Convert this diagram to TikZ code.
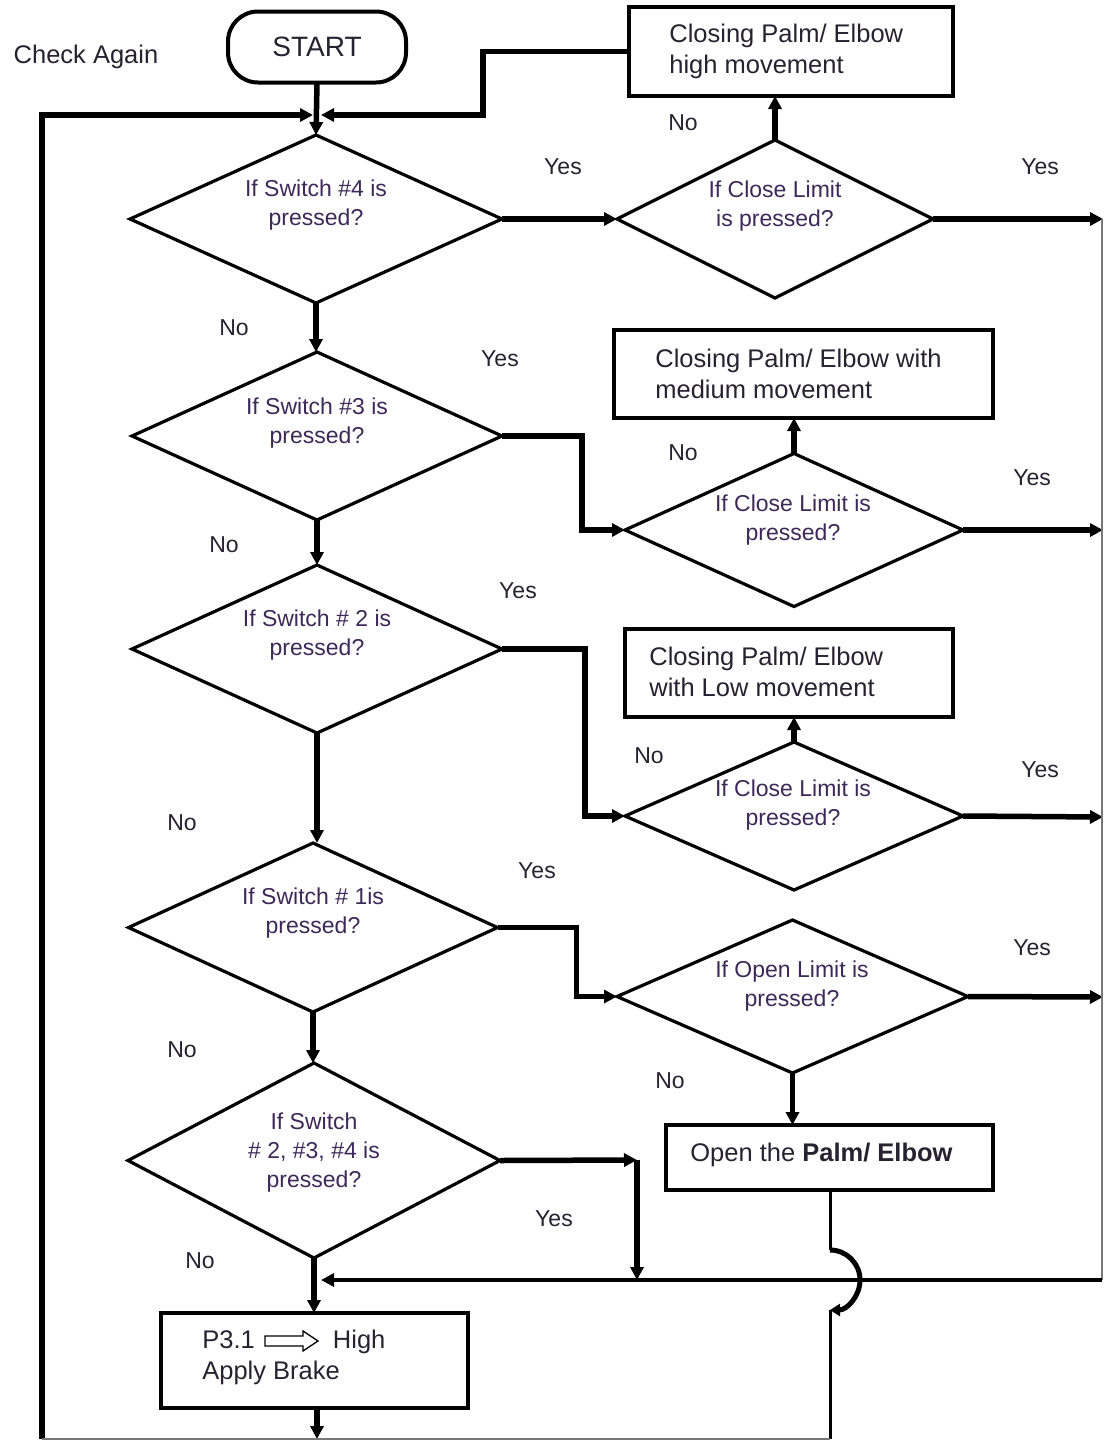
\documentclass[tikz,border=0pt]{standalone}
\usepackage{fontspec}
\setmainfont{Liberation Sans}
\usetikzlibrary{shapes.geometric,arrows.meta,calc}
\definecolor{txt}{RGB}{38,34,48}
\definecolor{dtxt}{RGB}{62,40,88}
\definecolor{rim}{RGB}{120,120,120}
\begin{document}
\begin{tikzpicture}[x=1pt,y=-1pt,
  every node/.style={outer sep=0pt},
  dia/.style={draw,line width=3.2pt,shape=diamond,inner sep=0pt},
  dtext/.style={text=dtxt,align=center,font=\fontsize{23}{29}\selectfont},
  lab/.style={text=txt,font=\fontsize{23}{28}\selectfont},
  box/.style={draw,line width=4.2pt,inner sep=0pt},
  btext/.style={text=txt,align=left,font=\fontsize{25.5}{31}\selectfont},
  conn/.style={line width=5.5pt,-{Triangle[length=13pt,width=13pt]}},
]
\useasboundingbox (0,0) rectangle (1103,1440);

% ---- terminal and process boxes ----
\node[draw,line width=4pt,rounded corners=30pt,minimum width=178pt,minimum height=71pt,
      font=\fontsize{28}{30}\selectfont,text=txt] (start) at (317,47) {START};
\node[lab,font=\fontsize{25.5}{30}\selectfont] (again) at (86,57) {Check Again};

\node[box,minimum width=324pt,minimum height=89pt] (b1) at (791,51.5) {};
\node[btext,anchor=west] (b1t) at (666,51) {Closing Palm/ Elbow\\ high movement};

\node[box,minimum width=379pt,minimum height=88pt] (b2) at (803.5,374) {};
\node[btext,anchor=west] (b2t) at (652,374) {Closing Palm/ Elbow with\\ medium movement};

\node[box,minimum width=328pt,minimum height=88pt] (b3) at (789,673) {};
\node[btext,anchor=west] (b3t) at (646,672) {Closing Palm/ Elbow\\with Low movement};

\node[box,minimum width=327pt,minimum height=65pt] (b4) at (829.5,1157.5) {};
\node[btext,anchor=west] (b4t) at (687,1155) {Open the \textbf{Palm/ Elbow}};

\node[box,minimum width=307pt,minimum height=95pt] (pb) at (314.5,1360.5) {};
\node[btext,anchor=west] (pbt) at (199,1357) {P3.1 \hspace{64pt} High\\Apply Brake};
% hollow arrow inside the brake box
\draw[line width=1.3pt,fill=white]
  ($(pbt.west)+(66,-21)$) -- ++(38,0) -- ++(0,-5) -- ++(15,10) -- ++(-15,10)
  -- ++(0,-5) -- ++(-38,0) -- cycle;

% ---- decisions ----
\node[dia,minimum width=372pt,minimum height=168pt] (d1) at (316,219) {};
\node[dtext] (d1t) at (316,205) {If Switch \#4 is\\pressed?};

\node[dia,minimum width=316pt,minimum height=158pt] (d2) at (775,219) {};
\node[dtext] (d2t) at (775,206) {If Close Limit\\is pressed?};

\node[dia,minimum width=370pt,minimum height=168pt] (d3) at (317,436) {};
\node[dtext] (d3t) at (317,423) {If Switch \#3 is\\pressed?};

\node[dia,minimum width=338pt,minimum height=153pt] (d4) at (794,530) {};
\node[dtext] (d4t) at (793,520) {If Close Limit is\\pressed?};

\node[dia,minimum width=370pt,minimum height=168pt] (d5) at (317,649) {};
\node[dtext] (d5t) at (317,635) {If Switch \# 2 is\\pressed?};

\node[dia,minimum width=338pt,minimum height=148pt] (d6) at (794,816) {};
\node[dtext] (d6t) at (793,805) {If Close Limit is\\pressed?};

\node[dia,minimum width=369pt,minimum height=169pt] (d7) at (313,927.5) {};
\node[dtext] (d7t) at (313,913) {If Switch \# 1is\\pressed?};

\node[dia,minimum width=351pt,minimum height=153pt] (d8) at (792.5,996.5) {};
\node[dtext] (d8t) at (792,986) {If Open Limit is\\pressed?};

\node[dia,minimum width=372pt,minimum height=195pt] (d9) at (314,1160.5) {};
\node[dtext] (d9t) at (314,1153) {If Switch\\\# 2, \#3, \#4 is\\pressed?};

% ---- junction points ----
\coordinate (m1) at (317,115);
\coordinate (j1) at (483,115);
\coordinate (loopbot) at (42,1439);
\coordinate (rail1) at (1102,219);
\coordinate (rail2) at (1102,1280);
\coordinate (m2) at (317,1280);
\coordinate (y9) at (637,1160);
\coordinate (y9b) at (637,1280);
\coordinate (hop1) at (830,1250);
\coordinate (hop2) at (830,1310);
\coordinate (b4bot) at (830,1439);
\coordinate (pbot) at (317,1439);
\coordinate (e2) at (1103,219);
\coordinate (e4) at (1103,530);
\coordinate (e6) at (1103,817);
\coordinate (e8) at (1103,997);

% ---- connectors: main column ----
\draw[conn] (start.south) -- (d1.north);
\draw[conn] (loopbot) |- ($(m1)+(-4,0)$);
\draw[conn] (b1.west) -| (j1) -- ($(m1)+(4,0)$);
\draw[conn] (d1.south) -- (d1.south |- d3.north);
\draw[conn] (d3.south) -- (d3.south |- d5.north);
\draw[conn] (d5.south) -- (d5.south |- d7.north);
\draw[conn] (d7.south) -- (d7.south |- d9.north);
\draw[conn] (d9.south) -- (d9.south |- pb.north);
\draw[conn] (pb.south -| pbot) -- (pbot);

% ---- connectors: yes branches ----
\draw[conn] (d1.east) -- (d2.west);
\draw[conn] (d3.east) -- ++(80,0) |- (d4.west);
\draw[conn] (d5.east) -- ++(83,0) |- (d6.west);
\draw[conn] (d7.east) -- ++(79,0) |- (d8.west);
\draw[conn] (d9.east) -- (y9);
\draw[conn] (y9) -- (y9b);

% ---- connectors: limit checks ----
\draw[conn] (d2.north) -- (d2.north |- b1.south);
\draw[conn] (d4.north) -- (d4.north |- b2.south);
\draw[conn] (d6.north) -- (d6.north |- b3.south);
\draw[conn] (d8.south) -- (d8.south |- b4.north);
\draw[conn] (d2.east) -- (e2);
\draw[conn] (d4.east) -- (e4);
\draw[conn] (d6.east) -- (e6);
\draw[conn] (d8.east) -- (e8);

% ---- return rail along the right and bottom ----
\draw[line width=2pt,color=rim] (rail1) -- (rail2);
\draw[line width=4pt,-{Triangle[length=13pt,width=13pt]}] (rail2) -- ($(m2)+(4,0)$);
\draw[line width=3pt] (b4.south -| hop1) -- (hop1);
\draw[line width=5pt,-{Triangle[length=10pt,width=12pt]}] (hop1) arc(-90:90:30);
\draw[line width=3pt] (hop2) -- (b4bot);
\draw[line width=1.5pt,color=rim] (loopbot) -- (b4bot);

% ---- branch labels ----
\node[lab] (l1y) at (563,167) {Yes};
\node[lab] (l2n) at (683,123) {No};
\node[lab] (l2y) at (1040,167) {Yes};
\node[lab] (l1n) at (234,328) {No};
\node[lab] (l3y) at (500,359) {Yes};
\node[lab] (l4n) at (683,453) {No};
\node[lab] (l4y) at (1032,478) {Yes};
\node[lab] (l3n) at (224,545) {No};
\node[lab] (l5y) at (518,591) {Yes};
\node[lab] (l6n) at (649,756) {No};
\node[lab] (l6y) at (1040,770) {Yes};
\node[lab] (l5n) at (182,823) {No};
\node[lab] (l7y) at (537,871) {Yes};
\node[lab] (l8y) at (1032,948) {Yes};
\node[lab] (l7n) at (182,1050) {No};
\node[lab] (l8n) at (670,1081) {No};
\node[lab] (l9y) at (554,1219) {Yes};
\node[lab] (l9n) at (200,1261) {No};
\end{tikzpicture}
\end{document}
